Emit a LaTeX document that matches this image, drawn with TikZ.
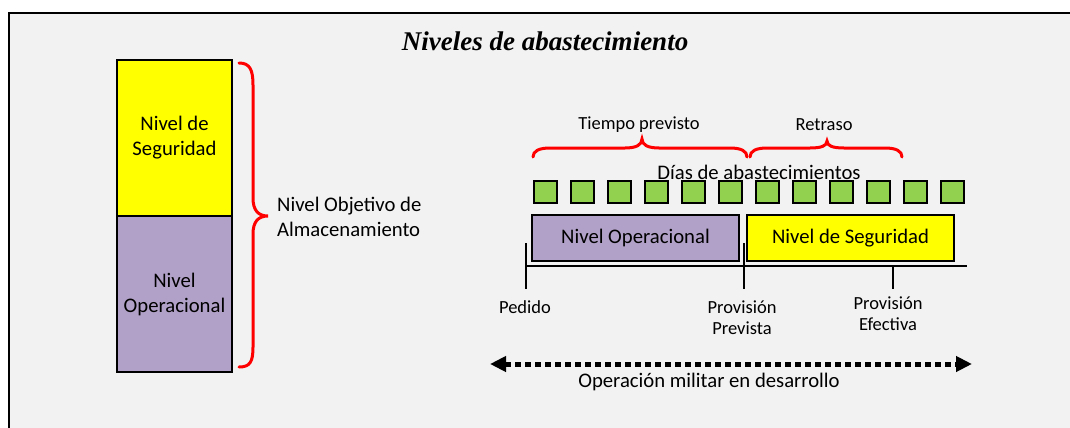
\documentclass[tikz,border=0pt]{standalone}
\usepackage{fontspec}
\setmainfont{Carlito}
\newfontfamily\titlefont{Liberation Serif}
\usetikzlibrary{arrows.meta}
\definecolor{bg}{HTML}{F2F2F2}
\definecolor{lgreen}{HTML}{92D050}
\definecolor{lpurple}{HTML}{B1A0C7}
\definecolor{lyellow}{HTML}{FFFF00}
\begin{document}
\begin{tikzpicture}[x=1pt,y=-1pt,
  big/.style={font=\fontsize{20.7}{25}\selectfont, align=center, inner sep=0pt},
  small/.style={font=\fontsize{18.5}{21}\selectfont, align=center, inner sep=0pt},
  sq/.style={draw=black, line width=1.5pt, fill=lgreen, minimum width=23pt, minimum height=22pt, inner sep=0pt},
  levelbox/.style={draw=black, line width=1.5pt, inner sep=0pt, font=\fontsize{20.7}{25}\selectfont, align=center},
  bracestyle/.style={draw=red, line width=3pt, line cap=round},
  tickline/.style={line width=2pt}]
\useasboundingbox (0,0) rectangle (1070,428);
\fill[white] (0,0) rectangle (1070,428);
\fill[bg] (9,13) rectangle (1070,428);
\draw[line width=2.5pt] (9,428) -- (9,13) -- (1070,13);

\node[font=\titlefont\bfseries\itshape\fontsize{27}{32}\selectfont, anchor=base, inner sep=0pt] (title) at (545,51) {Niveles de abastecimiento};

% left column
\node[levelbox, fill=lyellow, minimum width=115pt, minimum height=156pt] (ls) at (174.5,138) {Nivel de\\Seguridad};
\node[levelbox, fill=lpurple, minimum width=115pt, minimum height=156pt] (lo) at (174.5,294) {Nivel\\Operacional};

\draw[bracestyle] (239,63) .. controls (250,63) and (253,70) .. (253,85) -- (253,198) .. controls (253,210) and (258,216) .. (268,216) .. controls (258,216) and (253,222) .. (253,234) -- (253,347) .. controls (253,362) and (250,367) .. (239,367);
\node[big, align=left, anchor=west] (nobj) at (277,216.5) {Nivel Objetivo de\\Almacenamiento};

% right part
\node[small] (tp) at (639,125) {Tiempo previsto};
\node[small] (rt) at (824,125) {Retraso};
\draw[bracestyle] (533,157) .. controls (533,151) and (539,148) .. (550,148) -- (625,148) .. controls (636,148) and (642,145) .. (642,139) .. controls (642,145) and (648,148) .. (659,148) -- (730,148) .. controls (741,148) and (747,151) .. (747,157);
\draw[bracestyle] (750,157) .. controls (750,151) and (756,148) .. (767,148) -- (810,148) .. controls (821,148) and (827,146) .. (827,141) .. controls (827,146) and (833,148) .. (844,148) -- (885,148) .. controls (896,148) and (902,151) .. (902,157);
\node[big] (dias) at (759,172) {Días de abastecimientos};

\foreach \i in {0,...,11} \node[sq] (d\i) at ({545.5+37*\i},192) {};

\node[levelbox, fill=lpurple, minimum width=207pt, minimum height=46pt] (bo) at (635.5,238) {Nivel Operacional};
\node[levelbox, fill=lyellow, minimum width=207pt, minimum height=46pt] (bs) at (850.5,238) {Nivel de Seguridad};

\coordinate (t0) at (526,266);
\coordinate (t1) at (967,266);
\draw[tickline] (t0) -- (t1);
\coordinate (p0) at (526,243); \coordinate (p0b) at (526,289);
\coordinate (p1) at (744,243); \coordinate (p1b) at (744,289);
\coordinate (p2) at (893,266); \coordinate (p2b) at (893,289);
\draw[tickline] (p0) -- (p0b);
\draw[tickline] (p1) -- (p1b);
\draw[tickline] (p2) -- (p2b);

\node[small] (ped) at (525,307) {Pedido};
\node[small] (pp) at (742,317.5) {Provisión\\Prevista};
\node[small] (pe) at (888,314) {Provisión\\Efectiva};

\coordinate (al) at (490,364);
\coordinate (ar) at (972,364);
\draw[line width=5pt, dash pattern=on 6pt off 4pt, {Triangle[length=16pt,width=15pt]}-{Triangle[length=16pt,width=15pt]}] (al) -- (ar);
\node[big] (op) at (709,382) {Operación militar en desarrollo};
\end{tikzpicture}
\end{document}
